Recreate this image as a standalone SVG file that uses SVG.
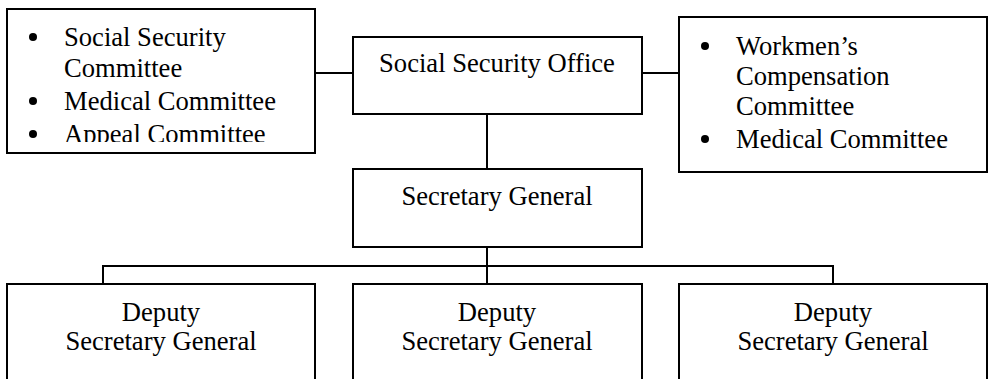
<svg xmlns="http://www.w3.org/2000/svg" width="993" height="379" viewBox="0 0 993 379">
<style>
.box{fill:#fff;stroke:#000;stroke-width:2}
.ln{stroke:#000;stroke-width:2;fill:none}
text{font-family:"Liberation Serif","Times New Roman",serif;font-size:26.6px;fill:#000}
.c{text-anchor:middle}
.b{fill:#000}
</style>
<defs>
<clipPath id="clipL"><rect x="8" y="10" width="306" height="132"/></clipPath>
</defs>
<g id="connectors">
<line class="ln" x1="315" y1="73" x2="353" y2="73"/>
<line class="ln" x1="641" y1="73" x2="679" y2="73"/>
<line class="ln" x1="487" y1="114" x2="487" y2="169"/>
<line class="ln" x1="487" y1="247" x2="487" y2="284"/>
<polyline class="ln" points="103,284 103,266 833,266 833,284"/>
</g>
<g id="committees-left">
<rect class="box" x="7" y="9" width="308" height="144"/>
<g clip-path="url(#clipL)">
<circle class="b" cx="33" cy="37" r="4"/>
<text x="64" y="46">Social Security</text>
<text x="64" y="77">Committee</text>
<circle class="b" cx="33" cy="101" r="4"/>
<text x="64" y="110">Medical Committee</text>
<circle class="b" cx="33" cy="134" r="4"/>
<text x="64" y="143">Appeal Committee</text>
</g>
</g>
<g id="office">
<rect class="box" x="353" y="37" width="289" height="77"/>
<text class="c" x="497" y="72">Social Security Office</text>
</g>
<g id="committees-right">
<rect class="box" x="679" y="17" width="308" height="155"/>
<circle class="b" cx="705" cy="46" r="4"/>
<text x="736" y="55">Workmen’s</text>
<text x="736" y="85">Compensation</text>
<text x="736" y="115">Committee</text>
<circle class="b" cx="705" cy="139" r="4"/>
<text x="736" y="148">Medical Committee</text>
</g>
<g id="secretary-general">
<rect class="box" x="353" y="169" width="289" height="78"/>
<text class="c" x="497" y="205">Secretary General</text>
</g>
<g id="deputy-1">
<rect class="box" x="7" y="284" width="308" height="120"/>
<text class="c" x="161" y="321">Deputy</text>
<text class="c" x="161" y="350">Secretary General</text>
</g>
<g id="deputy-2">
<rect class="box" x="353" y="284" width="289" height="120"/>
<text class="c" x="497" y="321">Deputy</text>
<text class="c" x="497" y="350">Secretary General</text>
</g>
<g id="deputy-3">
<rect class="box" x="679" y="284" width="308" height="120"/>
<text class="c" x="833" y="321">Deputy</text>
<text class="c" x="833" y="350">Secretary General</text>
</g>
</svg>
